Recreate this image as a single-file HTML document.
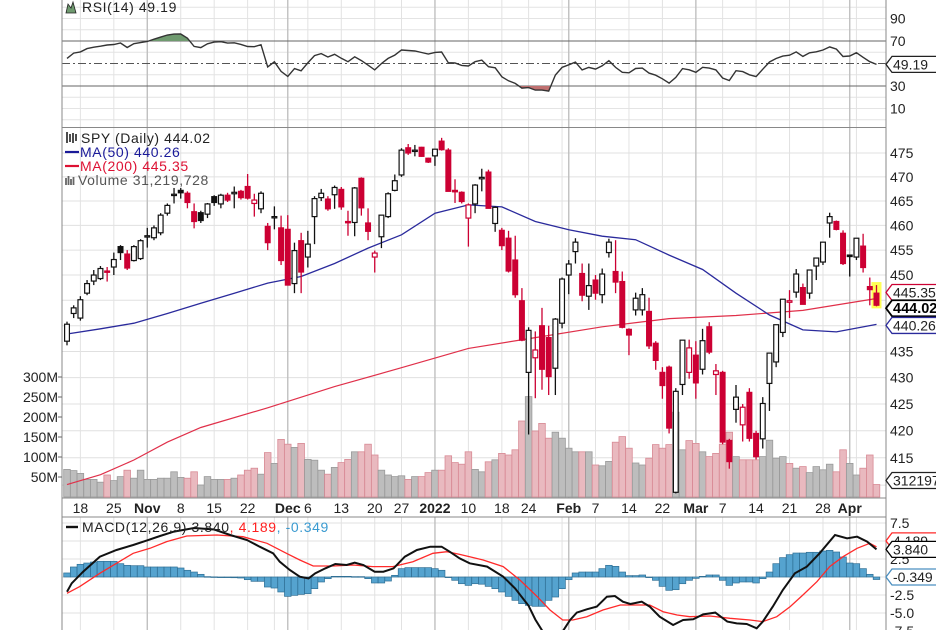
<!DOCTYPE html>
<html><head><meta charset="utf-8"><style>
html,body{margin:0;padding:0;background:#fff;width:936px;height:630px;overflow:hidden}
svg{display:block;font-family:"Liberation Sans",sans-serif}
</style></head><body>
<svg id="chart" width="936" height="630" viewBox="0 0 936 630">
<defs>
<clipPath id="clipRsi"><rect x="62" y="0" width="824" height="127"/></clipPath>
<clipPath id="clipMain"><rect x="62" y="128" width="824" height="370"/></clipPath>
<clipPath id="clipMacd"><rect x="62" y="517" width="824" height="113"/></clipPath>
<clipPath id="clipOB"><rect x="62" y="0" width="824" height="41"/></clipPath>
<clipPath id="clipOS"><rect x="62" y="86" width="824" height="41"/></clipPath>
</defs>
</svg>
<script>
// ---------- DATA ----------
const opens=[437.0,442.4,441.5,446.4,448.8,449.3,450.8,451.6,455.7,454.2,452.9,453.3,457.7,457.5,458.5,462.5,466.2,467.2,466.6,462.8,462.6,462.3,465.9,464.4,466.2,466.5,467.0,468.0,464.5,463.4,459.8,461.7,459.5,459.2,448.3,456.9,453.6,461.8,465.7,465.4,466.3,467.4,460.8,460.6,469.7,460.5,453.6,457.7,461.8,467.2,470.4,476.1,475.4,476.2,473.9,474.4,477.5,475.6,467.2,466.8,461.5,464.4,469.6,471.0,460.4,459.0,457.4,453.0,444.9,431.0,433.8,440.0,437.7,431.8,440.5,450.0,454.7,450.3,445.8,449.0,446.1,454.5,450.7,448.7,439.3,443.1,443.1,442.8,436.6,431.0,432.0,408.7,428.7,431.0,434.3,431.6,439.8,430.6,431.0,418.2,424.0,421.1,427.2,419.5,418.5,428.9,433.0,438.7,444.6,446.6,447.5,446.4,451.8,452.6,460.5,460.8,458.4,454.0,453.6,455.8,447.7,446.4];
const highs=[440.8,444.0,445.8,449.0,451.0,451.8,451.6,454.5,456.0,455.0,456.0,457.2,459.5,460.0,462.5,464.5,467.7,467.7,467.0,464.5,463.0,464.6,466.2,466.5,466.7,468.0,467.3,470.6,466.5,467.0,460.5,463.9,462.0,462.1,456.5,458.5,458.9,466.0,467.5,466.0,468.2,467.9,463.0,467.9,469.9,463.5,454.9,462.1,466.8,470.5,476.0,476.9,476.7,476.3,474.0,475.8,478.2,476.0,469.5,467.0,464.5,468.5,471.7,471.5,463.9,459.5,458.9,457.9,447.4,439.7,438.9,443.5,440.0,441.5,449.5,453.0,457.4,452.3,452.3,450.0,451.3,457.3,457.0,450.7,439.5,446.5,447.4,445.5,437.0,432.0,432.3,428.0,437.2,437.3,437.0,439.4,440.7,432.6,431.3,418.5,428.6,425.0,428.0,420.0,426.3,434.7,440.2,445.2,447.0,451.2,448.3,451.0,453.4,456.6,462.6,461.0,459.0,454.0,457.4,458.3,449.5,448.0];
const lows=[436.2,441.5,441.0,446.0,448.0,449.0,448.7,450.0,453.0,451.0,452.7,453.0,455.5,457.0,458.0,462.0,464.5,465.5,463.5,459.4,460.5,461.5,464.0,463.5,464.8,463.5,465.3,465.3,461.8,462.5,455.0,459.2,452.0,448.0,446.4,446.4,451.5,456.2,465.0,463.0,463.4,463.2,457.9,457.8,462.0,457.0,450.5,455.4,461.5,467.0,470.0,474.6,474.3,474.2,472.9,472.3,475.5,467.0,464.6,464.5,455.7,462.5,467.0,463.5,458.7,455.0,450.5,445.5,437.0,419.3,426.1,427.7,426.7,426.7,439.5,446.2,452.3,444.8,443.1,445.1,444.4,453.5,446.4,439.5,434.3,442.0,442.0,435.5,431.5,426.0,419.5,408.5,426.7,429.8,426.0,430.6,434.5,426.7,417.5,413.0,421.5,418.0,418.0,414.7,416.7,423.7,432.0,437.8,441.5,445.5,444.2,445.3,449.0,452.0,457.5,459.0,452.0,449.7,453.0,450.5,444.0,443.8];
const closes=[440.3,443.5,445.1,448.3,450.0,451.3,450.6,453.1,454.5,451.4,455.7,456.9,457.9,459.5,462.1,464.1,466.4,466.7,464.7,460.8,461.0,464.4,464.7,466.2,465.2,466.8,465.7,465.6,465.2,466.6,456.5,461.8,452.9,448.0,454.9,450.6,456.2,465.5,466.6,463.4,467.8,463.8,460.6,467.7,463.6,458.8,454.4,462.1,466.5,469.2,475.6,475.0,475.6,474.3,473.1,475.8,475.7,467.0,466.9,464.9,464.2,468.3,469.9,463.5,463.7,455.9,450.8,446.1,437.2,439.1,435.3,431.6,430.2,441.3,449.2,452.2,456.6,446.0,447.9,446.4,450.2,456.6,448.6,439.7,438.2,445.4,446.1,436.1,433.3,428.5,420.5,427.4,437.2,435.7,429.0,437.1,434.9,431.3,417.9,414.3,426.3,424.4,418.6,415.2,425.1,434.7,440.2,445.2,444.9,450.2,444.2,451.0,453.4,456.6,461.8,459.2,452.3,453.7,457.4,451.5,447.1,444.02];
const volumes=[69,66,59,44,44,37,55,41,51,67,47,67,44,44,47,47,63,49,47,63,30,51,44,44,44,47,55,67,72,57,111,84,144,132,124,134,94,92,67,57,74,86,94,113,113,132,105,67,55,51,53,44,51,51,61,67,67,103,86,82,113,69,63,88,93,109,105,118,190,251,165,184,147,162,147,122,113,113,113,80,78,89,137,151,122,85,80,97,131,122,131,212,118,141,134,113,101,109,132,162,101,93,93,93,101,142,97,101,84,72,76,61,76,68,82,63,118,84,55,72,105,31.2];
const rsiVals=[54.5,59.2,60.3,63.2,64.5,65.4,66.4,66.9,68.2,64.2,67.6,68.6,69.6,71.6,73.5,75.3,76.1,76.2,72.5,65.2,64.1,67.5,69,69.4,68.1,68.4,67,65.1,64.9,66.7,47,51.5,43,38.5,45.5,43.5,50.5,57,58.8,55.8,58.2,54.6,51.6,56,52.6,48.5,44.3,49.9,54.5,57.5,62,61.6,61.1,59.8,58.4,59.9,60.2,50.7,50.4,48.3,47.8,51.6,53,47.2,46.2,38.2,34.6,32.3,28.1,28.6,26.4,26.4,25.5,39.8,46.5,48.8,51.2,44.3,46.5,45,48,52.5,46.5,42.2,41.7,45.6,45.9,41.5,39.6,36.4,32.6,37.6,45.5,44.4,42.2,46.6,45.9,44.3,37.1,34.9,43.6,42.8,40,38.4,44.9,51.3,54.4,56.6,57.4,60.3,56.3,59.5,60.4,62,64.8,62.8,56.2,56.7,59.6,55.5,51.6,49.19];
const ma50Days=[0,5,10,15,20,25,30,35,40,45,50,55,60,65,70,75,80,85,90,95,100,105,110,115,121];
const ma50Vals=[438.4,439.4,440.5,442.4,444.4,446.4,448.4,449.7,452.3,455.4,458.1,462.5,464.2,463.8,460.8,459.1,457.8,457.1,454.0,451.1,446.4,442.1,439.2,438.8,440.26];
const ma200Days=[0,5,10,15,20,30,40,50,60,70,80,90,100,110,121];
const ma200Vals=[410.1,411.9,414.6,417.9,420.6,424.3,428.3,431.9,435.6,437.7,439.8,441.4,442.0,443.0,445.35];
const macdDays=[0,0.7,2.4,4.9,7.4,9.9,11.9,13.9,16,19,22,24.4,26.9,28.8,30.8,31.8,33.3,34.8,36.1,37.1,38.6,40.1,41.8,43,44.3,46,47.3,48.8,50.5,52.3,54.3,56,57.2,58.7,60.2,62.8,65.2,67,69,70,71,72.5,74.2,75.2,76.2,77.7,79.2,80.7,81.9,83.1,84.2,85.9,87.1,88.6,90.6,92.1,93.6,95.1,96.9,98.7,100.1,101.6,103.1,104,105.5,107,108.8,110.6,112.5,114.8,116.6,118.1,119.6,121];
const macdVals=[-2.04,-0.88,0.74,2.82,3.75,4.44,5.05,5.69,6.3,6.8,6.6,5.83,5.14,4.21,3.29,2.13,0.97,0.04,-0.19,0.51,1.2,1.81,1.67,1.99,1.67,0.74,0.74,1.2,2.82,3.75,4.21,4.21,3.52,2.59,1.9,1.44,0.04,-1.6,-4.0,-5.9,-7.4,-9.0,-7.4,-5.97,-4.95,-4.49,-4.11,-2.73,-2.64,-3.43,-3.75,-3.43,-4.11,-5.51,-6.67,-5.97,-5.88,-5.19,-4.95,-6.2,-6.44,-6.53,-7.13,-6.2,-4.11,-1.8,0.51,1.44,3.29,5.83,5.37,5.6,4.91,3.84];
const signalDays=[0,1.9,4.9,7.4,9.9,12.4,14.9,17.9,22.4,26.3,29.9,32.8,34.8,36.8,39.8,42.8,45.7,48.7,51.7,54.7,56.8,58.7,60.2,62.2,65.2,67.7,70.3,72.2,74.1,75.6,77.7,80.1,82.7,85.2,87.1,89.1,91.2,93.1,96.1,99.1,102.1,104,106.1,108.1,110,112.1,114,116,118.1,120,121];
const signalVals=[-2.27,-1.34,0.51,1.9,3.29,3.98,4.91,5.69,5.83,5.6,4.68,3.29,2.36,1.53,1.53,1.67,1.44,1.44,2.13,3.29,3.52,3.14,2.82,2.36,1.44,-0.42,-2.73,-4.58,-5.97,-5.97,-5.51,-4.58,-3.89,-3.89,-3.89,-4.82,-5.28,-5.51,-5.42,-5.74,-5.97,-6.2,-5.51,-4.11,-2.5,-0.65,1.44,2.82,3.98,4.68,4.19];
const histVals=[0.56,1.39,1.76,1.94,2.08,2.18,2.18,2.18,1.85,1.62,1.57,1.57,1.39,1.39,1.39,1.39,1.39,1.25,0.93,0.69,0.37,0.05,0.02,0,0,-0.1,-0.14,-0.37,-0.6,-0.6,-1.39,-1.53,-2.08,-2.69,-2.55,-2.41,-2.31,-1.62,-0.69,-0.23,0.09,0.09,0.09,0.05,0.05,-0.23,-0.83,-0.83,-0.56,0.23,1.16,1.3,1.3,1.3,1.3,1.16,0.93,0,-0.46,-0.93,-1.16,-0.93,-1.0,-1.3,-1.62,-2.08,-2.69,-3.24,-3.7,-3.94,-4.07,-4.07,-3.24,-2.78,-1.62,-0.37,0.56,0.69,0.69,0.69,1.16,1.62,1.48,0.69,0.19,0.19,0.28,0,-0.46,-1.3,-1.85,-1.76,-0.93,-0.46,-0.19,0.09,0.28,0.28,-0.46,-1.16,-0.83,-0.69,-0.69,-0.83,-0.23,0.69,1.85,2.69,3.1,3.33,3.33,3.43,3.43,3.61,3.7,3.47,2.78,1.94,1.85,1.16,0.37,-0.349];
const priceTicks=[475,470,465,460,455,450,440,435,430,425,420,415];
const volTicks=[300,250,200,150,100,50];
const rsiTicks=[90,70,30,10];
const macdTicks=[7.5,5.0,2.5,-2.5,-5.0,-7.5];
const dateIdx=[2,7,12,17,22,27,33,36,41,46,50,55,60,65,69,75,79,84,89,94,98,103,108,113,117];
const dateLabels=["18","25","Nov","8","15","22","Dec","6","13","20","27","2022","10","18","24","Feb","7","14","22","Mar","7","14","21","28","Apr"];
const weekIdx=[2,7,12,17,22,27,31,33,36,41,46,50,55,60,65,69,74,75,79,84,89,94,98,103,108,113,117,118];
const monthIdx=[12,33,55,75,94,117];

// ---------- SCALES ----------
const xOf=i=>67+6.69*i;
const yP=p=>153+2257*Math.log(475/p);
const yV=v=>497-0.4*v;
const yR=r=>41+(70-r)*1.125;
const yM=m=>577-7.2*m;
const NS="http://www.w3.org/2000/svg";
const svg=document.getElementById('chart');
function mk(tag,attrs,parent){const e=document.createElementNS(NS,tag);for(const k in attrs)e.setAttribute(k,attrs[k]);(parent||svg).appendChild(e);return e;}
function txt(s,attrs,parent){const e=mk('text',attrs,parent);e.textContent=s;return e;}
const RED="#cc0033";

// ---------- GRID ----------
const grid=mk('g',{});


for(let r=0;r<=100;r+=10){ if(r==70||r==30||r==50) continue; const y=yR(r); if(y<0||y>127)continue; mk('line',{x1:62,x2:886,y1:y,y2:y,stroke:"#e4e4e4"},grid);}
priceTicks.concat([445,410]).forEach(p=>{const y=yP(p);mk('line',{x1:62,x2:886,y1:y,y2:y,stroke:"#e0e0e0"},grid);});
for(let m=-7.5;m<=7.5;m+=2.5){const y=yM(m);mk('line',{x1:62,x2:886,y1:y,y2:y,stroke:"#e0e0e0"},grid);}
weekIdx.forEach(i=>{const x=xOf(i);const mon=monthIdx.includes(i);
 [[0,127],[128,498],[517,630]].forEach(s=>mk('line',{x1:x,x2:x,y1:s[0],y2:s[1],stroke:mon?"#c0c0c0":"#e2e2e2","stroke-width":mon?1.4:1},grid));});

// ---------- RSI PANEL ----------
const rsiG=mk('g',{'clip-path':'url(#clipRsi)'});


const rl1=mk('line',{x1:62,x2:886,y1:yR(70),y2:yR(70),stroke:"#666"},rsiG);


const rl2=mk('line',{x1:62,x2:886,y1:yR(30),y2:yR(30),stroke:"#666"},rsiG);


const rl3=mk('line',{x1:62,x2:886,y1:yR(50),y2:yR(50),stroke:"#555","stroke-dasharray":"8,3,2,3"},rsiG);


let rpts=rsiVals.map((v,i)=>xOf(i).toFixed(1)+","+yR(v).toFixed(1));
const ob=mk('polygon',{points:xOf(0)+","+yR(70)+" "+rpts.join(" ")+" "+xOf(rsiVals.length-1)+","+yR(70),fill:"#6f9a6f","clip-path":"url(#clipOB)"},rsiG);


const os=mk('polygon',{points:xOf(0)+","+yR(30)+" "+rpts.join(" ")+" "+xOf(rsiVals.length-1)+","+yR(30),fill:"#c07070","clip-path":"url(#clipOS)"},rsiG);


const rline=mk('polyline',{points:rpts.join(" "),fill:"none",stroke:"#333","stroke-width":1.4},rsiG);



// ---------- MAIN PANEL ----------
const mainG=mk('g',{'clip-path':'url(#clipMain)'});


const volG=mk('g',{},mainG);


volumes.forEach((v,i)=>{const down=i>0&&closes[i]<closes[i-1];const y=yV(v);
 const b=mk('rect',{x:xOf(i)-3.3,y:y,width:6.6,height:497-y,fill:down?"#e9b9bf":"#bdbdbd",stroke:down?"#d88a95":"#9a9a9a","stroke-width":0.8},volG);
 
 });
const hl=mk('rect',{x:xOf(121)-5,y:yP(448.6),width:10,height:yP(443.4)-yP(448.6),fill:"#ffff55"},mainG);


function sparseLine(days,vals,yf){return days.map((d,k)=>xOf(d).toFixed(1)+","+yf(vals[k]).toFixed(1)).join(" ");}
const ma200=mk('polyline',{points:sparseLine(ma200Days,ma200Vals,yP),fill:"none",stroke:"#e0304a","stroke-width":1.2},mainG);


const ma50=mk('polyline',{points:sparseLine(ma50Days,ma50Vals,yP),fill:"none",stroke:"#2a2a9c","stroke-width":1.3},mainG);


const candG=mk('g',{},mainG);


closes.forEach((c,i)=>{const o=opens[i];const down=i>0&&c<closes[i-1];const col=down?RED:"#111";const x=xOf(i);
 const g=mk('g',{},candG);
 
 
 mk('line',{x1:x,x2:x,y1:yP(highs[i]),y2:yP(lows[i]),stroke:col,"stroke-width":1.3},g);
 const top=yP(Math.max(o,c)),bot=yP(Math.min(o,c));const h=Math.max(bot-top,1.3);
 const hollow=c>=o;
 mk('rect',{x:x-2.4,y:top,width:4.8,height:h,fill:hollow?"#fff":col,stroke:col,"stroke-width":1.2},g);});

// ---------- MACD PANEL ----------
const macdG=mk('g',{'clip-path':'url(#clipMacd)'});


histVals.forEach((h,i)=>{const y0=yM(0),y=yM(h);
 const b=mk('rect',{x:xOf(i)-3.3,y:Math.min(y,y0),width:6.6,height:Math.max(Math.abs(y-y0),0.6),fill:"#55a3cf",stroke:"#2f6f95","stroke-width":0.7},macdG);
 
 });
const sig=mk('polyline',{points:sparseLine(signalDays,signalVals,yM),fill:"none",stroke:"#ff2a2a","stroke-width":1.3},macdG);


const mac=mk('polyline',{points:sparseLine(macdDays,macdVals,yM),fill:"none",stroke:"#111","stroke-width":2},macdG);



// ---------- FRAMES ----------
const fr=mk('g',{fill:"none",stroke:"#888"});


mk('line',{x1:62,x2:62,y1:0,y2:630},fr);
mk('line',{x1:886,x2:886,y1:0,y2:630},fr);
mk('line',{x1:62,x2:886,y1:127.5,y2:127.5},fr);
mk('line',{x1:62,x2:886,y1:498,y2:498},fr);
mk('line',{x1:62,x2:886,y1:517,y2:517},fr);

// ---------- AXIS LABELS ----------
const ax=mk('g',{"font-size":"14",fill:"#222"});


rsiTicks.forEach(t=>{const l=txt(String(t),{x:890,y:yR(t)+5},ax);
 
 });
priceTicks.forEach(t=>{const l=txt(String(t),{x:890,y:yP(t)+5},ax);
 
 });
volTicks.forEach(t=>{const y=yV(t);mk('line',{x1:58,x2:62,y1:y,y2:y,stroke:"#666"},ax);
 const l=txt(t+"M",{x:58,y:y+5,"text-anchor":"end"},ax);
 
 });
macdTicks.forEach(t=>{const l=txt(t.toFixed(1),{x:890,y:yM(t)+5},ax);
 
 });
dateIdx.forEach((d,k)=>{const bold=isNaN(+dateLabels[k])||dateLabels[k]=="2022";
 const l=txt(dateLabels[k],{x:xOf(d),y:513,"text-anchor":"middle","font-weight":bold?"bold":"normal","font-size":"14"},ax);
 
 });

// ---------- VALUE TAGS ----------
function tag(val,y,color,bold,name){const g=mk('g',{});
 
 
 const w=bold?52:48;
 mk('path',{d:`M886,${y} l6,-8 h${w} v16 h-${w} z`,fill:"#fff",stroke:color,"stroke-width":bold?1.8:1.3},g);
 txt(val,{x:893,y:y+5,"font-size":bold?"14.5":"14","font-weight":bold?"bold":"normal",fill:bold?"#000":"#222"},g);}
tag("49.19",yR(49.19),"#222",false,'rsi-value-tag');
tag("445.35",yP(445.35)-6,RED,false,'ma200-value-tag');
tag("444.02",yP(444.02)+3,"#000",true,'price-value-tag');
tag("440.26",yP(440.26)+1,"#2a2a9c",false,'ma50-value-tag');
tag("31219728",yV(31.2)-4,"#222",false,'volume-value-tag');
tag("4.189",yM(4.189)-6,"#ff2a2a",false,'signal-value-tag');
tag("3.840",yM(3.84),"#000",false,'macd-value-tag');
tag("-0.349",yM(0),"#4a8fc0",false,'histogram-value-tag');

// ---------- LEGENDS ----------
const lg=mk('g',{"font-size":"14","letter-spacing":"0.6"});


mk('path',{d:"M66,13 L68,4 L71,8 L73,2 L76,13 Z",fill:"#6f9a6f",stroke:"#222","stroke-width":0.8},lg);
const l1=txt("RSI(14) 49.19",{x:82,y:12,fill:"#222"},lg);


mk('path',{d:"M67,132v11M70,134v8M73,133v10M76,134v7",stroke:"#222","stroke-width":1.6},lg);
const l2=txt("SPY (Daily) 444.02",{x:81,y:143,fill:"#222"},lg);


mk('line',{x1:65,x2:79,y1:152,y2:152,stroke:"#1a1a99","stroke-width":2.2},lg);
const l3=txt("MA(50) 440.26",{x:80,y:157,fill:"#1a1a99"},lg);


mk('line',{x1:65,x2:79,y1:166,y2:166,stroke:"#dd1133","stroke-width":2.2},lg);
const l4=txt("MA(200) 445.35",{x:80,y:171,fill:"#dd1133"},lg);


mk('path',{d:"M66,185v-7M68.5,185v-9M71,185v-6M73.5,185v-8",stroke:"#666","stroke-width":1.8},lg);
const l5=txt("Volume 31,219,728",{x:78,y:185,fill:"#555"},lg);


mk('line',{x1:66,x2:78,y1:527,y2:527,stroke:"#111","stroke-width":2.4},lg);
const l6=mk('text',{x:82,y:532,fill:"#222"},lg);


l6.innerHTML='MACD(12,26,9) 3.840<tspan fill="#ff2020">, 4.189</tspan><tspan fill="#3a9ad0">, -0.349</tspan>';
</script>
</body></html>
